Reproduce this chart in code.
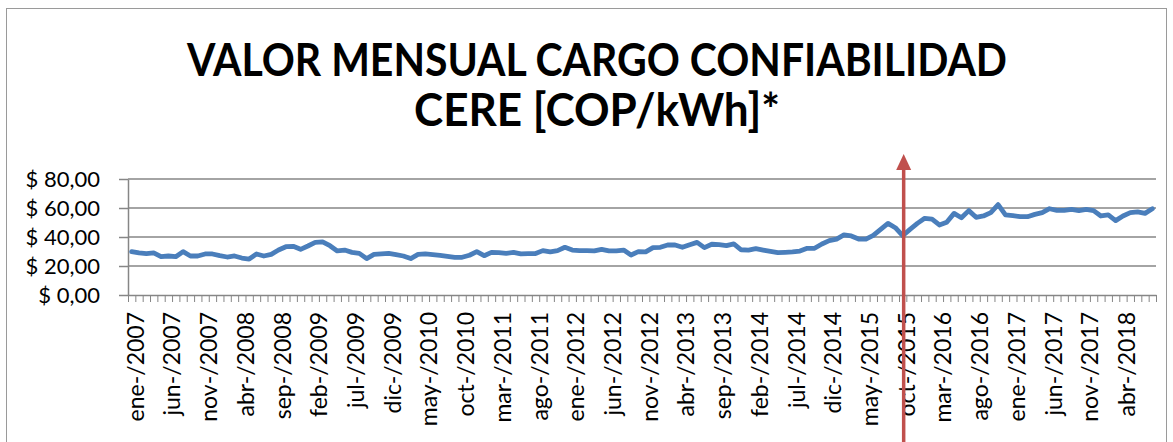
<!DOCTYPE html>
<html>
<head>
<meta charset="utf-8">
<script src="https://cdn.jsdelivr.net/npm/d3@7"></script>
<style>
  body { margin: 0; background: #fff; }
  svg { display: block; font-family: Lato, "Open Sans", sans-serif; }
</style>
</head>
<body>
<div id="chart"></div>
<script>
// Data

const months = ["ene", "feb", "mar", "abr", "may", "jun", "jul", "ago", "sep", "oct", "nov", "dic"];
const startYear = 2007;

const values = [
  29.9, 29.0, 28.5, 29.0, 26.4, 26.9, 26.4, 29.9, 26.9, 26.9, 28.3, 28.3,
  27.1, 26.2, 26.9, 25.5, 24.8, 28.3, 26.9, 28.0, 31.0, 33.3, 33.6, 31.5,
  33.8, 36.3, 36.6, 34.0, 30.4, 31.0, 29.4, 28.7, 25.1, 28.0, 28.3, 28.7,
  27.8, 26.9, 25.1, 28.0, 28.3, 27.8, 27.4, 26.7, 26.0, 26.0, 27.4, 29.9,
  27.1, 29.4, 29.2, 28.7, 29.4, 28.3, 28.5, 28.6, 30.6, 29.7, 30.6, 32.9,
  31.0, 30.6, 30.6, 30.4, 31.5, 30.4, 30.4, 31.0, 27.6, 29.9, 29.7, 32.7,
  32.9, 34.5, 34.5, 32.9, 34.7, 36.3, 32.7, 35.0, 34.7, 34.0, 35.2, 31.2,
  31.0, 32.0, 31.0, 30.1, 29.2, 29.4, 29.7, 30.3, 32.2, 32.2, 35.2, 37.5,
  38.6, 41.4, 40.7, 38.6, 38.6, 41.1, 45.3, 49.4, 46.4, 40.9, 45.3, 49.4,
  52.9, 52.4, 48.3, 50.2, 56.3, 53.3, 58.2, 53.6, 54.5, 56.8, 62.3, 55.2,
  54.7, 54.0, 54.0, 55.6, 56.8, 59.5, 58.4, 58.4, 59.1, 58.2, 59.1, 58.2,
  54.5, 55.2, 51.3, 54.5, 56.8, 57.3, 56.3, 59.5
];

const categories = values.map((v, i) => `${months[i % 12]}-/${startYear + Math.floor(i / 12)}`);
const labelEvery = 5;
const yTicks = [0, 20, 40, 60, 80];
const arrowCategory = "oct-/2015";
const titleLines = ["VALOR MENSUAL CARGO CONFIABILIDAD", "CERE [COP/kWh]*"];

// Chart

const width = 1173;
const height = 442;
const margin = { top: 179, right: 17, bottom: 147, left: 128 };

const svg = d3
  .select("#chart")
  .append("svg")
  .attr("width", width)
  .attr("height", height);

// outer border
svg
  .append("rect")
  .attr("x", 6.5)
  .attr("y", 8.5)
  .attr("width", 1160)
  .attr("height", 450)
  .attr("fill", "none")
  .attr("stroke", "#9a9a9a")
  .attr("stroke-width", 1);

// title
svg
  .selectAll(".title")
  .data(titleLines)
  .enter()
  .append("text")
  .attr("class", "title")
  .attr("x", 597)
  .attr("y", (d, i) => 76 + i * 50)
  .attr("text-anchor", "middle")
  .attr("font-size", 46)
  .attr("font-weight", "bold")
  .attr("textLength", (d, i) => (i === 0 ? 820 : 366))
  .attr("lengthAdjust", "spacingAndGlyphs")
  .text((d) => d);

const xScale = d3
  .scaleBand()
  .domain(categories)
  .range([margin.left, width - margin.right])
  .padding(0);

const xEdge = d3
  .scaleLinear()
  .domain([0, categories.length])
  .range([margin.left, width - margin.right]);

const yScale = d3
  .scaleLinear()
  .domain([0, 80])
  .range([height - margin.bottom, margin.top]);

const grey = "#868686";

// gridlines
svg
  .append("g")
  .selectAll("line")
  .data(yTicks.filter((d) => d > 0))
  .enter()
  .append("line")
  .attr("x1", margin.left)
  .attr("x2", width - margin.right)
  .attr("y1", (d) => yScale(d))
  .attr("y2", (d) => yScale(d))
  .attr("stroke", grey)
  .attr("stroke-width", 1.5);

// y axis
const yAxis = svg
  .append("g")
  .attr("transform", `translate(${margin.left},0)`)
  .call(
    d3
      .axisLeft(yScale)
      .tickValues(yTicks)
      .tickSize(9)
      .tickSizeOuter(0)
      .tickPadding(19)
      .tickFormat((d) => "$ " + d.toFixed(2).replace(".", ","))
  );
yAxis.select(".domain").attr("stroke", grey).attr("stroke-width", 1.5);
yAxis.selectAll(".tick line").attr("stroke", grey).attr("stroke-width", 1.5);
yAxis
  .selectAll(".tick text")
  .attr("font-size", 22)
  .attr("font-family", "Lato, sans-serif")
  .attr("fill", "#000");

// x axis ticks (between categories)
const xAxis = svg
  .append("g")
  .attr("transform", `translate(0,${yScale(0)})`)
  .call(
    d3
      .axisBottom(xEdge)
      .tickValues(d3.range(categories.length + 1))
      .tickSize(7)
      .tickSizeOuter(0)
      .tickFormat("")
  );
xAxis.select(".domain").attr("stroke", grey).attr("stroke-width", 1.5);
xAxis.selectAll(".tick line").attr("stroke", grey).attr("stroke-width", 1);

// x labels
svg
  .append("g")
  .selectAll("text")
  .data(categories.filter((d, i) => i % labelEvery === 0))
  .enter()
  .append("text")
  .attr("transform", (d) => `translate(${xScale(d) + xScale.bandwidth() / 2 + 4},${yScale(0) + 17}) rotate(-90)`)
  .attr("text-anchor", "end")
  .attr("dy", "0.35em")
  .attr("font-size", 23)
  .attr("fill", "#000")
  .text((d) => d);

// line
const line = d3
  .line()
  .x((d, i) => xScale(categories[i]) + xScale.bandwidth() / 2)
  .y((d) => yScale(d));

svg
  .append("path")
  .datum(values)
  .attr("d", line)
  .attr("fill", "none")
  .attr("stroke", "#4A7EBB")
  .attr("stroke-width", 4.8)
  .attr("stroke-linejoin", "round")
  .attr("stroke-linecap", "round");

// red arrow annotation
const ax = xScale(arrowCategory) + xScale.bandwidth() / 2 + 1;
const red = "#C0504D";
svg
  .append("line")
  .attr("x1", ax)
  .attr("x2", ax)
  .attr("y1", height)
  .attr("y2", 168)
  .attr("stroke", red)
  .attr("stroke-width", 3.5);
svg
  .append("path")
  .attr("d", `M${ax - 7.5},170 L${ax},154 L${ax + 7.5},170 Z`)
  .attr("fill", red);
</script>
</body>
</html>
